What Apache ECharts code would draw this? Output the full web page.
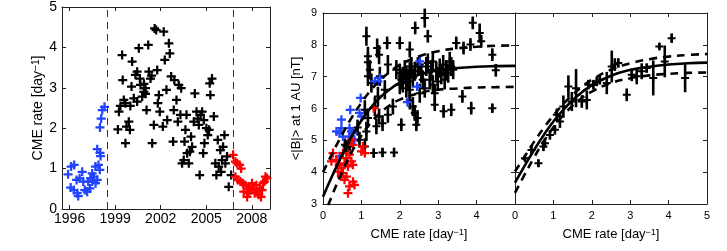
<!DOCTYPE html>
<html><head><meta charset="utf-8">
<script src="https://cdn.jsdelivr.net/npm/echarts@6/dist/echarts.min.js"></script>
<style>html,body{margin:0;padding:0;background:#fff}#c{width:727px;height:251px}</style>
</head><body><div id="c"></div>
<script>
// ---------- Left panel: CME rate vs year ----------
const yearTicks = [1996, 1999, 2002, 2005, 2008];
const phaseDividers = [1998.5, 2006.8];
const leftBlue = [[1995.9,0.86],[1996.1,1.05],[1996.3,1.09],[1996.07,0.53],[1996.28,0.47],[1996.5,0.39],[1996.57,0.32],[1996.46,0.72],[1996.66,0.76],[1996.83,0.92],[1996.9,0.68],[1997.0,0.47],[1997.16,0.43],[1997.23,0.68],[1997.38,0.76],[1997.49,0.88],[1997.49,0.68],[1997.6,0.8],[1997.71,0.64],[1997.82,0.72],[1997.34,0.51],[1997.7,1.05],[1997.9,1.09],[1997.99,0.97],[1997.82,1.48],[1998.0,1.39],[1998.04,1.31],[1998.0,2.02],[1998.08,2.24],[1998.15,2.45],[1998.3,2.53]];
const leftBlack = [[1999.18,1.97],[1999.25,2.41],[1999.35,2.55],[1999.46,3.81],[1999.5,3.19],[1999.57,2.7],[1999.68,2.62],[1999.68,1.63],[1999.75,2.04],[1999.9,2.16],[1999.97,1.96],[2000.08,3.03],[2000.12,3.65],[2000.23,2.74],[2000.34,3.32],[2000.45,3.4],[2000.45,2.66],[2000.56,3.98],[2000.63,3.23],[2000.67,3.07],[2000.78,2.78],[2000.89,2.9],[2001.0,2.99],[2001.07,2.45],[2001.18,4.06],[2001.22,3.4],[2001.33,3.23],[2001.44,1.63],[2001.55,2.08],[2001.6,4.47],[2001.7,4.43],[2001.77,3.44],[2001.81,2.62],[2001.88,2.82],[2001.94,2.41],[2002.14,2.04],[2002.2,4.39],[2002.27,3.69],[2002.38,2.95],[2002.43,2.2],[2002.54,4.1],[2002.6,3.85],[2002.69,3.28],[2002.82,1.67],[2002.86,2.45],[2002.9,3.19],[2003.04,2.7],[2003.13,2.16],[2003.19,3.07],[2003.3,2.33],[2003.35,2.99],[2003.41,1.13],[2003.52,1.21],[2003.57,1.67],[2003.63,1.96],[2003.7,2.33],[2003.74,1.38],[2003.85,1.13],[2003.92,1.42],[2004.0,1.79],[2004.07,1.54],[2004.18,2.16],[2004.25,2.86],[2004.36,2.41],[2004.44,2.24],[2004.51,2.08],[2004.57,0.84],[2004.62,2.33],[2004.73,2.41],[2004.8,1.38],[2004.84,2.2],[2004.88,1.63],[2005.01,2.0],[2005.1,1.83],[2005.19,1.96],[2005.23,3.11],[2005.27,2.82],[2005.38,3.23],[2005.5,2.29],[2005.6,1.13],[2005.67,0.84],[2005.76,1.71],[2005.82,1.05],[2005.93,1.46],[2005.98,0.92],[2006.04,1.21],[2006.11,1.54],[2006.2,1.83],[2006.26,1.13],[2006.37,1.3],[2006.48,0.55],[2006.64,0.84],[2000.0,2.55],[2000.9,3.1],[2001.4,3.3],[2001.0,2.85]];
const leftRed = [[2006.77,1.34],[2006.92,1.17],[2007.03,1.13],[2007.2,1.09],[2007.3,1.0],[2006.92,0.8],[2007.07,0.72],[2007.25,0.68],[2007.42,0.64],[2007.58,0.59],[2007.69,0.51],[2007.8,0.39],[2007.86,0.55],[2007.95,0.47],[2008.02,0.64],[2008.12,0.51],[2008.19,0.39],[2008.3,0.59],[2008.35,0.43],[2008.45,0.35],[2008.52,0.51],[2008.61,0.3],[2008.68,0.47],[2008.74,0.64],[2008.83,0.68],[2008.9,0.8],[2009.0,0.76],[2007.69,0.3],[2007.47,0.43]];

// ---------- Middle panel: <|B|> vs CME rate, individual points ----------
// [rate, B, error half-length]
const midBlack = [[1.13,8.27,.3],[1.17,7.64,.3],[1.17,7.45,.3],[1.22,7.22,.3],[1.41,7.9,.3],[1.46,7.69,.3],[1.67,8.06,.2],[1.69,7.38,.3],[2.0,8.06,.2],[2.26,7.85,.25],[2.4,8.53,.2],[2.65,8.84,.3],[2.73,8.27,.2],[3.9,8.69,.2],[4.08,8.37,.3],[4.12,8.11,.2],[3.47,8.06,.2],[3.66,7.9,.2],[3.84,8.01,.2],[4.41,7.69,.2],[4.5,7.2,.2],[4.41,6.01,.15],[3.86,6.01,.2],[3.63,6.38,.2],[3.34,5.96,.2],[3.14,5.91,.2],[2.91,6.12,.2],[2.91,6.48,.25],[2.46,5.7,.25],[2.39,5.86,.25],[2.43,5.49,.2],[2.34,6.06,.3],[2.04,5.49,.2],[2.26,6.27,.3],[1.82,6.06,.25],[1.69,5.8,.25],[1.55,5.54,.25],[1.39,5.44,.25],[1.46,5.75,.25],[1.32,4.6,.15],[1.55,4.62,.15],[1.85,4.62,.15],[1.17,5.7,.3],[1.13,5.28,.3],[1.09,4.81,.25],[0.95,5.02,.25],[0.69,4.81,.2],[0.61,4.81,.2],[1.09,5.96,.3],[2.0,7.11,.3],[2.04,6.9,.3],[2.08,7.01,.3],[2.13,7.22,.3],[2.17,7.06,.3],[2.21,6.85,.3],[2.26,7.17,.3],[2.3,7.32,.3],[2.08,6.8,.3],[2.0,6.75,.3],[2.17,6.64,.3],[2.26,6.59,.3],[2.34,6.96,.3],[2.39,7.17,.3],[2.47,7.32,.3],[2.52,7.38,.3],[2.56,7.11,.3],[2.6,6.9,.3],[2.69,7.32,.3],[2.73,7.43,.3],[2.82,7.22,.3],[2.86,7.48,.3],[2.95,7.17,.3],[3.04,7.27,.3],[3.08,7.06,.3],[3.13,7.38,.3],[3.21,7.22,.3],[3.26,7.11,.3],[3.3,7.48,.3],[3.34,7.32,.3],[3.39,7.22,.3],[3.17,6.9,.3],[2.99,6.85,.3],[2.86,6.75,.3],[2.78,6.9,.3],[2.65,6.64,.3],[2.52,6.48,.3],[1.91,7.22,.3],[1.17,7.01,.3],[1.26,6.8,.3],[1.48,7.01,.3],[1.61,6.59,.3],[1.43,6.38,.3],[1.35,6.06,.3],[0.57,4.86,.2],[0.9,5.4,.25]];
const midBlue = [[1.43,6.85],[1.35,6.85],[1.48,6.96],[0.98,6.33],[0.95,5.86],[0.71,5.96],[0.48,5.65],[0.35,5.28],[0.43,5.23],[0.48,5.38],[0.52,5.12],[0.69,5.38],[0.74,5.28],[0.78,5.23],[0.68,5.12],[0.82,5.02],[1.0,5.75],[0.43,4.5],[2.52,7.48],[2.45,6.69],[2.2,6.2]];
const midRed = [[1.32,6.01],[0.78,4.86],[0.74,5.02],[1.04,4.81],[1.09,4.6],[1.0,4.65],[0.26,4.6],[0.22,4.34],[0.35,4.39],[0.42,4.23],[0.48,4.13],[0.52,3.97],[0.39,4.02],[0.56,4.28],[0.61,4.44],[0.65,4.18],[0.69,4.55],[0.74,4.34],[0.78,4.23],[0.61,3.86],[0.56,3.76],[0.78,3.7],[0.82,3.6],[0.69,3.55],[0.65,3.34],[0.48,3.86],[0.52,4.6]];
// curves
const midFit   = [[0,3.23],[0.25,3.91],[0.5,4.55],[0.75,5.13],[1,5.62],[1.25,6.03],[1.5,6.36],[1.75,6.61],[2,6.81],[2.5,7.06],[3,7.2],[3.5,7.27],[4,7.31],[4.5,7.33],[5,7.34]];
const midUpper = [[0,4.0],[0.25,4.61],[0.5,5.19],[0.75,5.72],[1,6.18],[1.25,6.58],[1.5,6.9],[1.75,7.16],[2,7.37],[2.5,7.64],[3,7.8],[3.5,7.89],[4,7.94],[4.5,7.97],[5,7.98]];
const midLower = [[0,2.55],[0.25,3.31],[0.5,4.01],[0.75,4.64],[1,5.15],[1.25,5.56],[1.5,5.87],[1.75,6.11],[2,6.28],[2.5,6.48],[3,6.59],[3.5,6.63],[4,6.66],[4.5,6.67],[5,6.68]];

// ---------- Right panel: binned points ----------
const binPoints = [[0.26,4.44,.1],[0.43,4.7,.15],[0.61,4.28,.12],[0.74,4.81,.15],[0.78,4.91,.15],[0.91,5.17,.15],[1.04,5.33,.15],[1.09,5.8,.2],[1.17,5.59,.2],[1.26,6.06,.35],[1.39,6.69,.35],[1.48,6.22,.3],[1.59,6.64,.6],[1.74,6.22,.2],[1.87,6.27,.3],[1.91,6.75,.15],[2.04,6.75,.15],[2.13,6.85,.15],[2.21,6.9,.15],[2.39,6.8,.35],[2.52,7.32,.5],[2.6,7.38,.2],[2.69,7.43,.15],[2.91,6.43,.2],[3.04,7.06,.2],[3.17,7.01,.25],[3.3,7.17,.25],[3.43,7.27,.15],[3.6,6.96,.55],[3.76,7.95,.1],[3.9,7.48,.5],[4.08,8.21,.15],[4.43,6.96,.45]];
const binFit   = [[0,3.67],[0.25,4.2],[0.5,4.7],[0.75,5.17],[1,5.59],[1.25,5.95],[1.5,6.26],[1.75,6.52],[2,6.73],[2.5,7.03],[3,7.21],[3.5,7.31],[4,7.38],[4.5,7.42],[5,7.44]];
const binUpper = [[0,4.02],[0.25,4.49],[0.5,4.96],[0.75,5.39],[1,5.78],[1.25,6.13],[1.5,6.43],[1.75,6.69],[2,6.9],[2.5,7.22],[3,7.42],[3.5,7.55],[4,7.63],[4.5,7.68],[5,7.71]];
const binLower = [[0,3.35],[0.25,3.92],[0.5,4.47],[0.75,4.97],[1,5.41],[1.25,5.78],[1.5,6.09],[1.75,6.34],[2,6.53],[2.5,6.8],[3,6.95],[3.5,7.04],[4,7.09],[4.5,7.12],[5,7.13]];

const FONT = '"Liberation Sans", Arial, Helvetica, sans-serif';
const PLUS = 'path://M3,0L5,0L5,3L8,3L8,5L5,5L5,8L3,8L3,5L0,5L0,3L3,3Z';
const AX = '#222';

function axBase(extra) {
  return Object.assign({
    type: 'value',
    axisLine: { show: true, onZero: false, lineStyle: { color: AX, width: 1 } },
    axisTick: { show: true, inside: true, length: 4, lineStyle: { color: AX } },
    splitLine: { show: false },
    axisLabel: { show: false }
  }, extra);
}
const nameRich = (size) => ({ a: { fontSize: size, fontFamily: FONT, color: '#000' }, s: { fontSize: Math.round(size * 0.7), fontFamily: FONT, color: '#000', verticalAlign: 'top' } });

const xAxis = [
  axBase({ gridIndex: 0, position: 'bottom', min: 1995.5, max: 2009.2,
    axisLabel: { show: true, customValues: yearTicks, fontSize: 14, fontFamily: FONT, color: '#000', margin: 3, formatter: v => String(Math.round(v)) },
    axisTick: { show: true, inside: true, length: 4, customValues: yearTicks, lineStyle: { color: AX } } }),
  axBase({ gridIndex: 0, position: 'top', min: 1995.5, max: 2009.2,
    axisTick: { show: true, inside: true, length: 4, customValues: yearTicks, lineStyle: { color: AX } } }),
  axBase({ gridIndex: 1, position: 'bottom', min: 0, max: 5, interval: 1,
    axisLabel: { show: true, fontSize: 11, fontFamily: FONT, color: '#000', margin: 6, formatter: v => v === 5 ? '' : String(v) },
    name: '{a|CME rate [day}{s|−1}{a|]}', nameLocation: 'middle', nameGap: 24, nameTextStyle: { rich: nameRich(13) } }),
  axBase({ gridIndex: 1, position: 'top', min: 0, max: 5, interval: 1 }),
  axBase({ gridIndex: 2, position: 'bottom', min: 0, max: 5, interval: 1,
    axisLabel: { show: true, fontSize: 11, fontFamily: FONT, color: '#000', margin: 6 },
    name: '{a|CME rate [day}{s|−1}{a|]}', nameLocation: 'middle', nameGap: 24, nameTextStyle: { rich: nameRich(13) } }),
  axBase({ gridIndex: 2, position: 'top', min: 0, max: 5, interval: 1 })
];
const yAxis = [
  axBase({ gridIndex: 0, position: 'left', min: 0, max: 5, interval: 1,
    axisLabel: { show: true, fontSize: 14, fontFamily: FONT, color: '#000', margin: 5 },
    name: '{a|CME rate [day}{s|−1}{a|]}', nameLocation: 'middle', nameGap: 17, nameRotate: 90, nameTextStyle: { rich: nameRich(14) } }),
  axBase({ gridIndex: 0, position: 'right', min: 0, max: 5, interval: 1 }),
  axBase({ gridIndex: 1, position: 'left', min: 3, max: 9, interval: 1,
    axisLabel: { show: true, fontSize: 11, fontFamily: FONT, color: '#000', margin: 6 },
    name: '<|B|> at 1 AU [nT]', nameLocation: 'middle', nameGap: 20, nameRotate: 90, nameTextStyle: { fontSize: 13, fontFamily: FONT, color: '#000' } }),
  axBase({ gridIndex: 1, position: 'right', min: 3, max: 9, interval: 1 }),
  axBase({ gridIndex: 2, position: 'left', min: 3, max: 9, interval: 1 }),
  axBase({ gridIndex: 2, position: 'right', min: 3, max: 9, interval: 1 })
];

function scatter(data, color, xi, yi, size, z) {
  return { type: 'scatter', xAxisIndex: xi, yAxisIndex: yi, data: data, symbol: PLUS, symbolSize: size,
    itemStyle: { color: color, opacity: 1 }, z: z, silent: true, animation: false };
}
function errBars(data, xi, yi, z) {
  return { type: 'custom', xAxisIndex: xi, yAxisIndex: yi, data: data, z: z, silent: true, animation: false,
    encode: { x: 0, y: 1 },
    renderItem: function (params, api) {
      const x = api.value(0), y = api.value(1), e = api.value(2);
      const p1 = api.coord([x, y - e]), p2 = api.coord([x, y + e]);
      return { type: 'line', shape: { x1: p1[0], y1: p1[1], x2: p2[0], y2: p2[1] }, style: { stroke: '#000', lineWidth: 2.6 } };
    } };
}
function curve(data, xi, yi, dashed) {
  return { type: 'line', xAxisIndex: xi, yAxisIndex: yi, data: data, smooth: true, showSymbol: false, symbol: 'none',
    lineStyle: { color: '#000', width: 2.6, type: dashed ? [8, 6] : 'solid' }, z: 10, silent: true, animation: false, clip: true };
}

const series = [
  scatter(leftBlue, '#2244ff', 0, 0, 9, 3),
  scatter(leftBlack, '#000', 0, 0, 9, 3),
  scatter(leftRed, '#ff0000', 0, 0, 9, 3),
  { type: 'line', xAxisIndex: 0, yAxisIndex: 0, data: [], silent: true, animation: false,
    markLine: { symbol: 'none', silent: true, label: { show: false },
      lineStyle: { color: '#333', width: 1, type: [7, 5] },
      data: phaseDividers.map(v => ({ xAxis: v })) } },
  errBars(midBlack, 2, 2, 2),
  scatter(midBlack.map(d => [d[0], d[1]]), '#000', 2, 2, 8, 3),
  scatter(midBlue, '#2244ff', 2, 2, 9, 4),
  scatter(midRed, '#ff0000', 2, 2, 9, 5),
  curve(midFit, 2, 2, false), curve(midUpper, 2, 2, true), curve(midLower, 2, 2, true),
  errBars(binPoints, 4, 4, 2),
  scatter(binPoints.map(d => [d[0], d[1]]), '#000', 4, 4, 8, 3),
  curve(binFit, 4, 4, false), curve(binUpper, 4, 4, true), curve(binLower, 4, 4, true)
];

const chart = echarts.init(document.getElementById('c'), null, { renderer: 'canvas' });
chart.setOption({
  animation: false,
  backgroundColor: '#fff',
  grid: [
    { left: 62, top: 7, width: 208, height: 202 },
    { left: 323, top: 13, width: 192, height: 191 },
    { left: 515, top: 13, width: 192, height: 191 }
  ],
  xAxis: xAxis, yAxis: yAxis, series: series
});
</script></body></html>
